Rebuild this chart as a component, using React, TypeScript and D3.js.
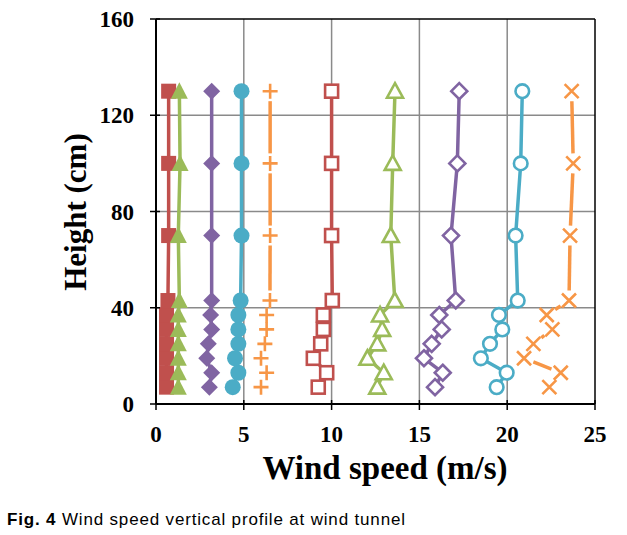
import React from "react";
import * as d3 from "d3";

const heights = [7, 13, 19, 25, 31, 37, 43, 70, 100, 130];
const xTicks = [0, 5, 10, 15, 20, 25];
const yTicks = [0, 40, 80, 120, 160];

const redFilledSquare = [0.6, 0.6, 0.6, 0.6, 0.6, 0.6, 0.68, 0.72, 0.72, 0.72];
const greenFilledTriangle = [1.27, 1.27, 1.27, 1.27, 1.27, 1.27, 1.33, 1.27, 1.37, 1.33];
const purpleFilledDiamond = [3.04, 3.17, 2.89, 2.98, 3.17, 3.11, 3.17, 3.17, 3.17, 3.17];
const blueFilledCircle = [4.37, 4.69, 4.5, 4.69, 4.69, 4.69, 4.82, 4.87, 4.87, 4.87];
const orangePlus = [5.98, 6.3, 5.98, 6.2, 6.3, 6.3, 6.49, 6.5, 6.5, 6.5];
const redOpenSquare = [9.24, 9.72, 8.96, 9.38, 9.53, 9.53, 10.04, 10.0, 10.0, 10.0];
const greenOpenTriangle = [12.6, 12.97, 12.04, 12.6, 12.88, 12.76, 13.6, 13.37, 13.48, 13.61];
const purpleOpenDiamond = [15.89, 16.33, 15.26, 15.7, 16.27, 16.13, 17.07, 16.8, 17.16, 17.27];
const blueOpenCircle = [19.4, 19.97, 18.5, 19.02, 19.72, 19.53, 20.6, 20.48, 20.77, 20.86];
const orangeX = [22.4, 23.05, 20.96, 21.49, 22.57, 22.25, 23.52, 23.58, 23.76, 23.67];

type Series = { values: number[]; color: string; marker: string; gap?: number };

const series: Series[] = [
  { values: redFilledSquare, color: "#C0504D", marker: "fsquare" },
  { values: greenFilledTriangle, color: "#9BBB59", marker: "ftriangle" },
  { values: purpleFilledDiamond, color: "#8064A2", marker: "fdiamond" },
  { values: blueFilledCircle, color: "#4BACC6", marker: "fcircle" },
  { values: orangePlus, color: "#F79646", marker: "plus", gap: 10 },
  { values: redOpenSquare, color: "#C0504D", marker: "osquare" },
  { values: greenOpenTriangle, color: "#9BBB59", marker: "otriangle" },
  { values: purpleOpenDiamond, color: "#8064A2", marker: "odiamond" },
  { values: blueOpenCircle, color: "#4BACC6", marker: "ocircle" },
  { values: orangeX, color: "#F79646", marker: "x", gap: 10 },
];

const W = 627;
const H = 535;
const left = 156;
const right = 595;
const top = 19;
const bottom = 404;

function Marker({ kind, x, y, color }: { kind: string; x: number; y: number; color: string }) {
  const sw = 2.6;
  switch (kind) {
    case "fsquare":
      return <rect x={x - 7.5} y={y - 7.5} width={15} height={15} fill={color} />;
    case "ftriangle":
      return <path d={`M${x},${y - 9}L${x + 8.5},${y + 7.5}L${x - 8.5},${y + 7.5}Z`} fill={color} />;
    case "fdiamond":
      return <path d={`M${x},${y - 8.5}L${x + 8.5},${y}L${x},${y + 8.5}L${x - 8.5},${y}Z`} fill={color} />;
    case "fcircle":
      return <circle cx={x} cy={y} r={8} fill={color} />;
    case "plus":
      return <path d={`M${x - 7.5},${y}H${x + 7.5}M${x},${y - 7.5}V${y + 7.5}`} stroke={color} strokeWidth={sw} fill="none" />;
    case "osquare":
      return <rect x={x - 6.5} y={y - 6.5} width={13} height={13} fill="white" stroke={color} strokeWidth={sw} />;
    case "otriangle":
      return <path d={`M${x},${y - 8}L${x + 8},${y + 6.5}L${x - 8},${y + 6.5}Z`} fill="white" stroke={color} strokeWidth={sw} strokeLinejoin="miter" />;
    case "odiamond":
      return <path d={`M${x},${y - 8}L${x + 8},${y}L${x},${y + 8}L${x - 8},${y}Z`} fill="white" stroke={color} strokeWidth={sw} />;
    case "ocircle":
      return <circle cx={x} cy={y} r={6.8} fill="white" stroke={color} strokeWidth={sw} />;
    case "x":
      return <path d={`M${x - 7},${y - 7}L${x + 7},${y + 7}M${x + 7},${y - 7}L${x - 7},${y + 7}`} stroke={color} strokeWidth={sw} fill="none" />;
  }
  return null;
}

export default function App() {
  const xs = d3.scaleLinear().domain([0, 25]).range([left, right]);
  const ys = d3.scaleLinear().domain([0, 160]).range([bottom, top]);
  const line = d3.line<[number, number]>().x((d) => d[0]).y((d) => d[1]);

  return (
    <svg width={W} height={H} style={{ position: "absolute", left: 0, top: 0, background: "white" }}>
      <rect x={0} y={0} width={W} height={H} fill="white" />
      {xTicks.filter((t) => t > 0 && t < 25).map((t) => (
        <line key={"gx" + t} x1={xs(t)} x2={xs(t)} y1={top} y2={bottom} stroke="#8a8a8a" strokeWidth={1.5} />
      ))}
      {yTicks.filter((t) => t > 0 && t < 160).map((t) => (
        <line key={"gy" + t} x1={left} x2={right} y1={ys(t)} y2={ys(t)} stroke="#8a8a8a" strokeWidth={1.5} />
      ))}
      <line x1={left} x2={right} y1={top} y2={top} stroke="black" strokeWidth={1.5} />
      <line x1={right} x2={right} y1={top} y2={bottom} stroke="black" strokeWidth={1.5} />
      {series.map((s, si) => {
        const pts: [number, number][] = s.values.map((v, i) => [xs(v), ys(heights[i])]);
        let lines: React.ReactNode;
        if (s.gap) {
          const segs: React.ReactNode[] = [];
          for (let i = 0; i < pts.length - 1; i++) {
            const [x1, y1] = pts[i];
            const [x2, y2] = pts[i + 1];
            const dx = x2 - x1, dy = y2 - y1;
            const len = Math.hypot(dx, dy);
            if (len <= 2 * s.gap) continue;
            const ux = dx / len, uy = dy / len;
            segs.push(
              <path key={i} d={line([[x1 + ux * s.gap, y1 + uy * s.gap], [x2 - ux * s.gap, y2 - uy * s.gap]]) || ""} stroke={s.color} strokeWidth={3.5} fill="none" />
            );
          }
          lines = segs;
        } else {
          lines = <path d={line(pts) || ""} stroke={s.color} strokeWidth={3.5} fill="none" strokeLinejoin="round" />;
        }
        return (
          <g key={si}>
            {lines}
            {pts.map((p, i) => (
              <Marker key={i} kind={s.marker} x={p[0]} y={p[1]} color={s.color} />
            ))}
          </g>
        );
      })}
      <line x1={left} x2={left} y1={top} y2={bottom} stroke="black" strokeWidth={2} />
      <line x1={left} x2={right} y1={bottom} y2={bottom} stroke="black" strokeWidth={2} />
      {xTicks.map((t) => (
        <g key={"xt" + t}>
          <line x1={xs(t)} x2={xs(t)} y1={bottom - 4} y2={bottom + 6} stroke="black" strokeWidth={1.5} />
          <text x={xs(t)} y={442} textAnchor="middle" fontFamily="'Liberation Serif', serif" fontWeight="bold" fontSize={23}>{t}</text>
        </g>
      ))}
      {yTicks.map((t) => (
        <g key={"yt" + t}>
          <line x1={left - 6} x2={left + 4} y1={ys(t)} y2={ys(t)} stroke="black" strokeWidth={1.5} />
          <text x={134} y={ys(t) + 8} textAnchor="end" fontFamily="'Liberation Serif', serif" fontWeight="bold" fontSize={23}>{t}</text>
        </g>
      ))}
      <text x={385} y={479} textAnchor="middle" fontFamily="'Liberation Serif', serif" fontWeight="bold" fontSize={33}>Wind speed (m/s)</text>
      <text transform={`translate(86,212) rotate(-90)`} textAnchor="middle" fontFamily="'Liberation Serif', serif" fontWeight="bold" fontSize={31}>Height (cm)</text>
      <text x={7} y={525} fontFamily="'Liberation Sans', Arial, sans-serif" fontSize={17} textLength={398} lengthAdjust="spacing">
        <tspan fontWeight="bold">Fig. 4</tspan>
        <tspan> Wind speed vertical profile at wind tunnel</tspan>
      </text>
    </svg>
  );
}
